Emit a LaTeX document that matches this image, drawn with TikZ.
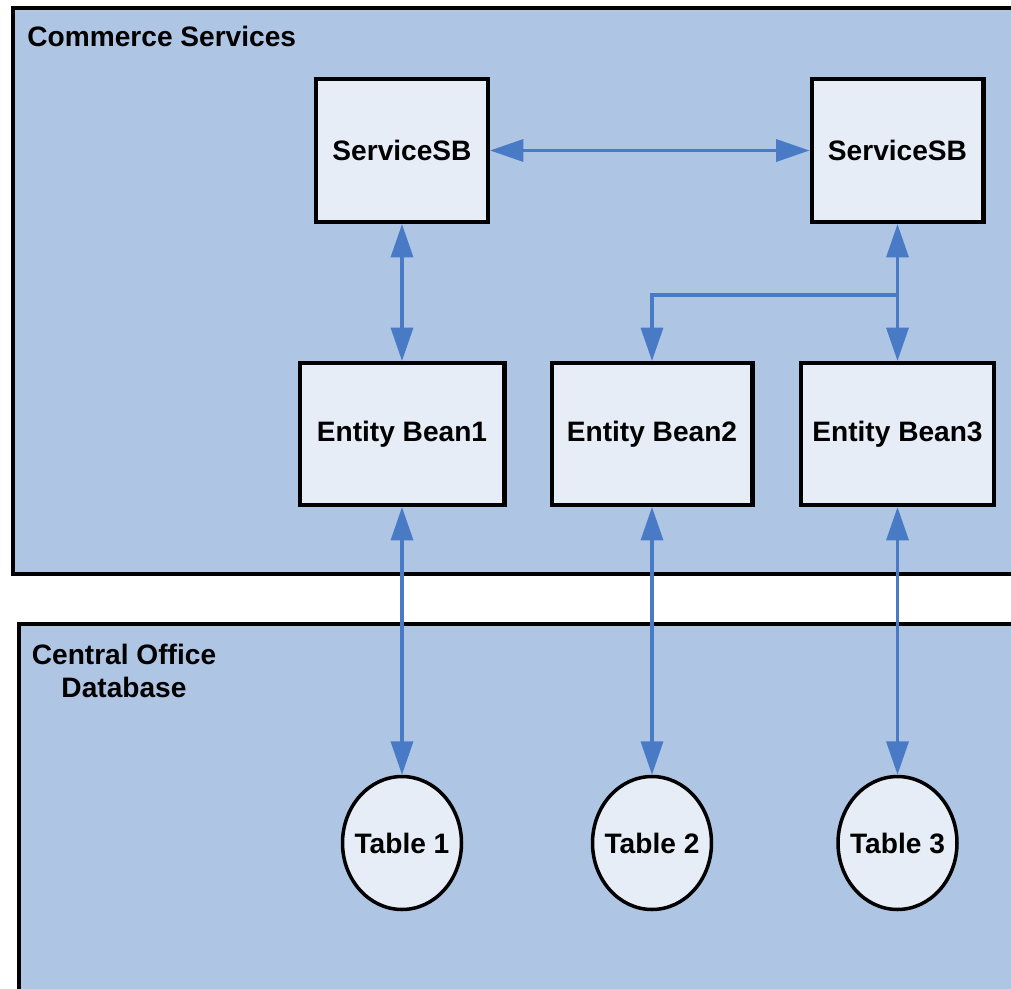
\documentclass[tikz,border=0pt]{standalone}
\usepackage{fontspec}
\setmainfont{Liberation Sans}
\usetikzlibrary{arrows.meta,shapes.geometric}
\definecolor{panelfill}{RGB}{175,197,228}
\definecolor{boxfill}{RGB}{230,237,247}
\definecolor{arrowblue}{RGB}{72,122,198}
\tikzset{
  panel/.style={draw=black, line width=2.3pt, fill=panelfill},
  beanbox/.style={draw=black, line width=2.3pt, fill=boxfill, rectangle, inner sep=0pt,
    font=\fontsize{16}{19}\selectfont\bfseries},
  tablenode/.style={draw=black, line width=2pt, fill=boxfill, ellipse, inner sep=0pt,
    minimum width=2.38cm, minimum height=2.66cm, font=\fontsize{16}{19}\selectfont\bfseries},
  conn/.style={draw=arrowblue, line width=2pt, {Triangle[length=19pt,width=12.5pt]}-{Triangle[length=19pt,width=12.5pt]}},
  oneway/.style={draw=arrowblue, line width=2pt, -{Triangle[length=19pt,width=12.5pt]}},
  paneltitle/.style={font=\fontsize{16}{19}\selectfont\bfseries, inner sep=0pt}
}
\begin{document}
\begin{tikzpicture}[x=0.02cm,y=-0.02cm]
\useasboundingbox (0,0) rectangle (1011,988);
\clip (0,0) rectangle (1011,988);
\fill[white] (0,0) rectangle (1011,988);
\draw[panel] (13,8) rectangle (1040,574);
\draw[panel] (19,624) rectangle (1040,1020);
\node[paneltitle, anchor=west] (cs) at (27,36) {Commerce Services};
\node[paneltitle, align=center] (cod) at (124,671) {Central Office\\Database};
\node[beanbox, minimum width=3.44cm, minimum height=2.86cm] (s1) at (402,150.5) {ServiceSB};
\node[beanbox, minimum width=3.44cm, minimum height=2.86cm] (s2) at (897.5,150.5) {ServiceSB};
\node[beanbox, minimum width=4.1cm, minimum height=2.84cm] (e1) at (402,434) {Entity Bean1};
\node[beanbox, minimum width=4.02cm, minimum height=2.84cm] (e2) at (652,434) {Entity Bean2};
\node[beanbox, minimum width=3.86cm, minimum height=2.84cm] (e3) at (897.5,434) {Entity Bean3};
\node[tablenode] (t1) at (402,843) {\makebox[0pt]{Table 1}};
\node[tablenode] (t2) at (652,843) {\makebox[0pt]{Table 2}};
\node[tablenode] (t3) at (897.5,843) {\makebox[0pt]{Table 3}};
\coordinate (j) at (897.5,295);
\draw[conn] (s1) -- (s2);
\draw[conn] (s1) -- (e1);
\draw[conn] (s2) -- (e3);
\draw[oneway] (j) -| (e2.north);
\draw[conn] (e1) -- (t1);
\draw[conn] (e2) -- (t2);
\draw[conn] (e3) -- (t3);
\end{tikzpicture}
\end{document}
